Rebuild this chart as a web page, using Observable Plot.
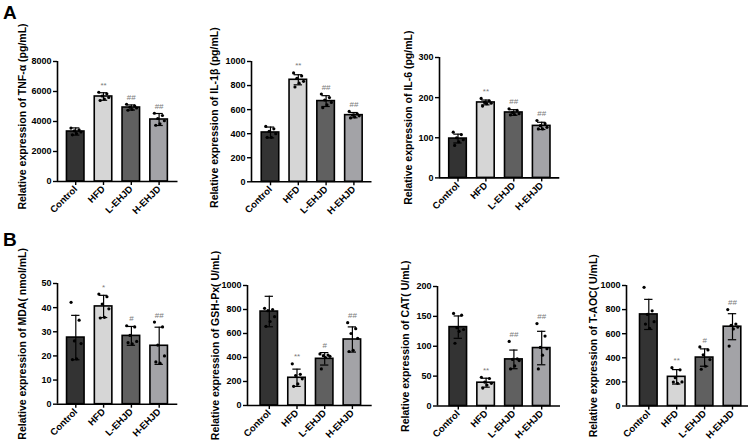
<!DOCTYPE html>
<html><head><meta charset="utf-8">
<script src="https://cdn.jsdelivr.net/npm/d3@7"></script>
<script src="https://cdn.jsdelivr.net/npm/@observablehq/plot@0.6"></script>
<style>
body{margin:0;background:#fff;}
#root{position:relative;width:753px;height:444px;overflow:hidden;background:#fff;font-family:"Liberation Sans",Arial,sans-serif;}
.letter{position:absolute;font-weight:bold;font-size:19px;line-height:19px;}
</style></head><body>
<div id="root"><div class="letter" style="left:3px;top:3px">A</div><div class="letter" style="left:3px;top:230px">B</div></div>
<script>
const groups = ["Control", "HFD", "L-EHJD", "H-EHJD"];
const barColors = ["#333333", "#d6d6d6", "#606060", "#a3a3a7"];

// A: TNF-α
const tnfMean = [3333, 5667, 4933, 4133];
const tnfSD = [240, 250, 170, 400];
const tnfPts = [[3560,3450,3380,3300,3200,3110],[5950,5850,5700,5600,5500,5400],[5150,5050,4950,4900,4800,4750],[4550,4400,4200,4050,3850,3750]];
const tnfSig = ["", "**", "##", "##"];
// A: IL-1β
const il1Mean = [410, 848, 671, 554];
const il1SD = [45, 42, 45, 22];
const il1Pts = [[460,440,420,400,370,370],[905,880,860,835,820,788],[730,700,680,660,640,616],[585,565,555,548,540,531]];
const il1Sig = ["", "**", "##", "##"];
// A: IL-6
const il6Mean = [98, 188, 163, 129.6];
const il6SD = [11, 6, 7, 9];
const il6Pts = [[114,108,100,95,90,81],[198,192,188,186,185,179],[172,168,163,160,158,157],[143,135,130,126,122,122]];
const il6Sig = ["", "**", "##", "##"];
// B: MDA
const mdaMean = [27.6, 40.5, 28.3, 24.2];
const mdaSD = [9.2, 4.6, 3.9, 7.7];
const mdaPts = [[42.2,34.8,26.2,25.1,18.8,18.5],[45.6,44.5,41.5,39.5,36,35.7],[32.5,32,28.5,26,25,25.5],[34,32,24.5,20,17,17.5]];
const mdaSig = ["", "*", "#", "##"];
// B: GSH-Px
const gshMean = [783, 231, 389, 550];
const gshSD = [127, 72, 52, 105];
const gshPts = [[810,800,790,740,700,660],[347,260,250,222,180,160],[430,420,415,410,400,305],[690,640,600,560,460,450]];
const gshSig = ["", "**", "#", "##"];
// B: CAT
const catMean = [132, 39, 78, 97];
const catSD = [18.7, 7.5, 15.6, 28];
const catPts = [[155,152,131,128,125,105],[48,46,40,38,35,30],[108,79,78,76,67,62],[138,117,98,96,85,62]];
const catSig = ["", "**", "##", "##"];
// B: T-AOC
const aocMean = [760, 242, 402, 658];
const aocSD = [125, 60, 72, 108];
const aocPts = [[985,790,760,700,645,680],[318,300,235,200,188,199],[490,465,425,385,330,305],[800,680,670,655,640,497]];
const aocSig = ["", "**", "#", "##"];

const yLabels = [
  "Relative expression of TNF-α (pg/mL)",
  "Relative expression of IL-1β (pg/mL)",
  "Relative expression of IL-6 (pg/mL)",
  "Relative expression of MDA( nmol/mL)",
  "Relative expression of GSH-Px( U/mL)",
  "Relative expression of CAT( U/mL)",
  "Relative expression of T-AOC( U/mL)"
];

const root = document.getElementById("root");
const jit = [-0.17, 0.12, -0.05, 0.19, 0.03, -0.12];

function panel(cfg, means, sds, pts, sig, label, yMax, yStep) {
  const mL = 50, mR = 4, mT = 22, mB = 56;
  const w = cfg.plotRight - cfg.axisX;
  const h = cfg.plotBottom - cfg.plotTop;
  const x0 = -(cfg.firstBar - cfg.axisX) / cfg.spacing;
  const x1 = x0 + w / cfg.spacing;
  const bars = groups.map((g, i) => ({g, i, mean: means[i], sd: sds[i], sig: sig[i], top: Math.max(means[i] + sds[i], ...pts[i])}));
  const dots = pts.flatMap((arr, i) => arr.map((v, k) => ({i, k, v})));
  const plot = Plot.plot({
    width: mL + w + mR, height: mT + h + mB,
    marginLeft: mL, marginRight: mR, marginTop: mT, marginBottom: mB,
    x: {domain: [x0, x1], axis: null},
    y: {domain: [0, yMax], axis: null},
    color: {domain: groups, range: barColors},
    style: {fontFamily: '"Liberation Sans", Arial, sans-serif', fontSize: "9px", fontWeight: "bold", color: "#000", background: "transparent", overflow: "visible"},
    marks: [
      Plot.rectY(bars, {x1: d => d.i - 0.315, x2: d => d.i + 0.315, y1: 0, y2: "mean", fill: "g", stroke: "#000", strokeWidth: 1.6}),
      Plot.ruleX(bars, {x: "i", y1: d => d.mean - d.sd, y2: d => d.mean + d.sd, stroke: "#000", strokeWidth: 1.2}),
      Plot.ruleY(bars, {y: d => d.mean + d.sd, x1: d => d.i - 0.15, x2: d => d.i + 0.15, stroke: "#000", strokeWidth: 1.2}),
      Plot.ruleY(bars, {y: d => d.mean - d.sd, x1: d => d.i - 0.15, x2: d => d.i + 0.15, stroke: "#000", strokeWidth: 1.2}),
      Plot.dot(dots, {x: d => d.i + jit[d.k], y: "v", r: 1.6, fill: "#000", stroke: "none"}),
      Plot.text(bars.filter(d => d.sig), {x: "i", y: "top", text: "sig", dy: -7, fill: "#7a7a7a", fontSize: 8, fontWeight: "normal"}),
      Plot.ruleX([x0], {y1: 0, y2: yMax, stroke: "#000", strokeWidth: 1.6}),
      Plot.ruleY([0], {x1: x0, x2: x1, stroke: "#000", strokeWidth: 1.6}),
      Plot.axisY({ticks: d3.range(0, yMax + yStep / 2, yStep), tickFormat: d => String(d), tickSize: 4, tickPadding: 2, label: null, strokeWidth: 1.4}),
      Plot.axisX({ticks: [0, 1, 2, 3], tickFormat: i => groups[i], tickSize: 4, tickPadding: 2, tickRotate: -45, label: null, strokeWidth: 1.4, fontSize: 9.5}),
      Plot.text([label], {text: d => d, frameAnchor: "left", rotate: -90, dx: cfg.labelX - cfg.axisX, dy: cfg.labelDy || 0, fontSize: 10.5, fontWeight: "bold", textAnchor: "middle"})
    ]
  });
  plot.style.position = "absolute";
  plot.style.left = (cfg.axisX - mL) + "px";
  plot.style.top = (cfg.plotTop - mT) + "px";
  root.appendChild(plot);
}

panel({axisX: 56.5, plotRight: 177, plotTop: 60.7, plotBottom: 180.7, firstBar: 74.7, spacing: 27.8, labelX: 22, labelDy: -5}, tnfMean, tnfSD, tnfPts, tnfSig, yLabels[0], 8000, 2000);
panel({axisX: 250.5, plotRight: 371, plotTop: 60.7, plotBottom: 181, firstBar: 269.5, spacing: 27.8, labelX: 214, labelDy: -4}, il1Mean, il1SD, il1Pts, il1Sig, yLabels[1], 1000, 200);
panel({axisX: 439, plotRight: 559.3, plotTop: 57.3, plotBottom: 177.7, firstBar: 457.5, spacing: 27.9, labelX: 408}, il6Mean, il6SD, il6Pts, il6Sig, yLabels[2], 300, 100);
panel({axisX: 56.7, plotRight: 177, plotTop: 283.3, plotBottom: 404, firstBar: 75, spacing: 27.8, labelX: 21.7}, mdaMean, mdaSD, mdaPts, mdaSig, yLabels[3], 50, 10);
panel({axisX: 247, plotRight: 371.7, plotTop: 285, plotBottom: 405, firstBar: 268.8, spacing: 27.7, labelX: 215}, gshMean, gshSD, gshPts, gshSig, yLabels[4], 1000, 200);
panel({axisX: 437, plotRight: 560, plotTop: 285.5, plotBottom: 405, firstBar: 457.8, spacing: 27.8, labelX: 405}, catMean, catSD, catPts, catSig, yLabels[5], 200, 50);
panel({axisX: 626, plotRight: 748, plotTop: 284.5, plotBottom: 405, firstBar: 648.3, spacing: 27.9, labelX: 593}, aocMean, aocSD, aocPts, aocSig, yLabels[6], 1000, 200);
</script></body></html>
